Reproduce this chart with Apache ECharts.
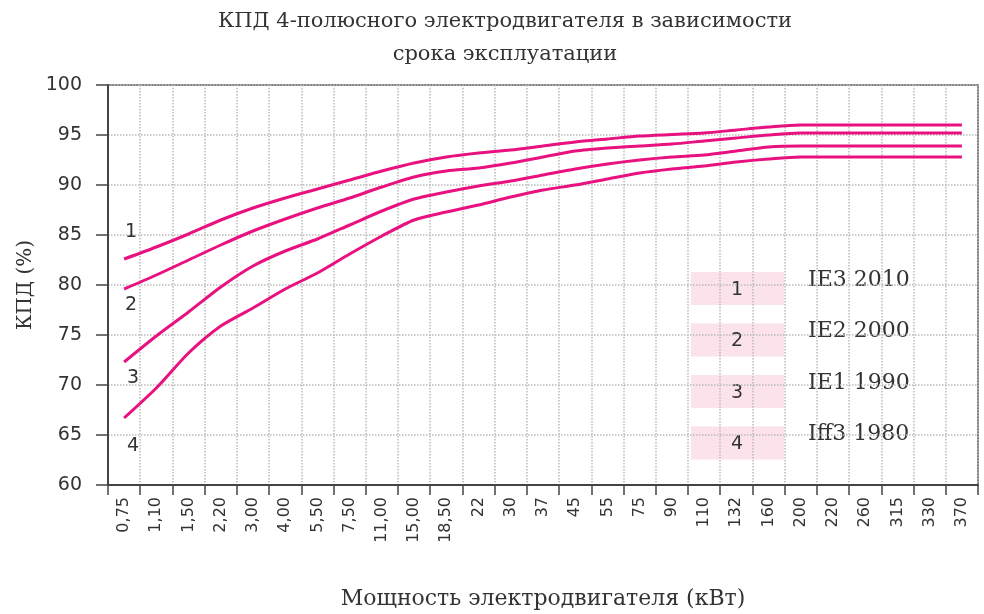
<!DOCTYPE html>
<html lang="ru">
<head>
  <meta charset="UTF-8">
  <title>КПД 4-полюсного электродвигателя</title>
  <script src="https://cdn.jsdelivr.net/npm/echarts@6.0.0/dist/echarts.min.js"></script>
  <style>
    html, body { margin: 0; padding: 0; background: #fff; }
    #chart { width: 984px; height: 614px; }
  </style>
</head>
<body>
  <div id="chart"></div>
  <script>
    // мощность, кВт
    const powers = ['0,75', '1,10', '1,50', '2,20', '3,00', '4,00', '5,50', '7,50', '11,00', '15,00',
      '18,50', '22', '30', '37', '45', '55', '75', '90', '110', '132', '160', '200', '220', '260',
      '315', '330', '370'];
    // КПД, %
    const ie3 = [82.6, 83.8, 85.1, 86.5, 87.7, 88.7, 89.6, 90.5, 91.4, 92.2, 92.8, 93.2, 93.5, 93.9,
      94.3, 94.6, 94.9, 95.05, 95.2, 95.5, 95.8, 96.0, 96.0, 96.0, 96.0, 96.0, 96.0];
    const ie2 = [79.6, 81.0, 82.5, 84.0, 85.4, 86.6, 87.7, 88.7, 89.8, 90.8, 91.4, 91.7, 92.2, 92.8,
      93.4, 93.7, 93.9, 94.1, 94.4, 94.7, 95.0, 95.2, 95.2, 95.2, 95.2, 95.2, 95.2];
    const ie1 = [72.3, 74.9, 77.3, 79.8, 81.9, 83.4, 84.6, 86.0, 87.4, 88.6, 89.3, 89.9, 90.4, 91.0,
      91.6, 92.1, 92.5, 92.8, 93.0, 93.4, 93.8, 93.9, 93.9, 93.9, 93.9, 93.9, 93.9];
    const eff3 = [66.7, 69.7, 73.2, 75.9, 77.7, 79.6, 81.2, 83.1, 84.9, 86.5, 87.3, 88.0, 88.8, 89.5,
      90.0, 90.6, 91.2, 91.6, 91.9, 92.3, 92.6, 92.8, 92.8, 92.8, 92.8, 92.8, 92.8];
    const curveNums = ['1', '2', '3', '4'];
    const classNames = ['IE3 2010', 'IE2 2000', 'IE1 1990', 'Iff3 1980'];
    const curves = [ie3, ie2, ie1, eff3];

    const pink = '#e8117f';
    const sans = 'DejaVu Sans';
    const serif = 'DejaVu Serif';
    // смещения подписей 1..4 у начала кривых
    const numOffsets = [[7, -27], [7, 16], [9, 16], [9, 28]];

    const series = curves.map((vals, i) => ({
      name: classNames[i],
      type: 'line',
      data: vals,
      symbol: 'none',
      smooth: 0.25,
      lineStyle: { color: pink, width: 3 },
      itemStyle: { color: pink },
      animation: false,
      markPoint: {
        symbol: 'circle',
        symbolSize: 1,
        itemStyle: { color: 'rgba(0,0,0,0)' },
        label: {
          show: true,
          formatter: curveNums[i],
          offset: numOffsets[i],
          color: '#333',
          fontFamily: sans,
          fontSize: 19
        },
        data: [{ coord: [0, vals[0]] }]
      }
    }));

    // легенда (розовые плашки + подписи)
    const graphic = [];
    classNames.forEach((name, i) => {
      const top = 272 + i * 51.5;
      graphic.push({
        type: 'rect',
        shape: { x: 691, y: top, width: 93, height: 33 },
        style: { fill: '#fbe2eb' }
      });
      graphic.push({
        type: 'text',
        x: 737, y: top + 18,
        style: {
          text: curveNums[i], fill: '#333', font: '19px "' + sans + '"',
          align: 'center', verticalAlign: 'middle'
        }
      });
      graphic.push({
        type: 'text',
        x: 808, y: top + 8,
        style: {
          text: name, fill: '#333', font: '22px "' + serif + '"',
          align: 'left', verticalAlign: 'middle'
        }
      });
    });

    const chart = echarts.init(document.getElementById('chart'));
    chart.setOption({
      animation: false,
      title: {
        text: 'КПД 4-полюсного электродвигателя в зависимости\nсрока эксплуатации',
        left: 500,
        textAlign: 'center',
        top: 0,
        textStyle: {
          fontFamily: serif, fontSize: 21, fontWeight: 'normal',
          color: '#333', lineHeight: 33
        }
      },
      grid: {
        left: 108, right: 6, top: 85, bottom: 129,
        outerBoundsMode: 'none',
        show: true, borderColor: '#555', borderWidth: 1.5, backgroundColor: 'transparent'
      },
      xAxis: {
        type: 'category',
        data: powers,
        boundaryGap: true,
        name: 'Мощность электродвигателя (кВт)',
        nameLocation: 'middle',
        nameGap: 103,
        nameMoveOverlap: false,
        nameTextStyle: { fontFamily: serif, fontSize: 22, color: '#333' },
        axisLine: { lineStyle: { color: '#444', width: 2 } },
        axisTick: { show: true, interval: 0, length: 10, lineStyle: { color: '#444', width: 1.5 } },
        axisLabel: {
          interval: 0, rotate: 90, margin: 12,
          fontFamily: sans, fontSize: 16, color: '#333'
        },
        splitLine: {
          show: true, interval: 0,
          lineStyle: { color: '#bbb', type: 'dotted', width: 1.5 }
        }
      },
      yAxis: {
        type: 'value',
        min: 60, max: 100, interval: 5,
        name: 'КПД (%)',
        nameLocation: 'middle',
        nameGap: 72,
        nameMoveOverlap: false,
        nameTextStyle: { fontFamily: serif, fontSize: 20, color: '#333' },
        axisLine: { show: true, lineStyle: { color: '#444', width: 2 } },
        axisTick: { show: true, length: 12, lineStyle: { color: '#444', width: 1.5 } },
        axisLabel: { margin: 26, fontFamily: sans, fontSize: 19, color: '#333' },
        splitLine: { lineStyle: { color: '#bbb', type: 'dotted', width: 1.5 } }
      },
      graphic: graphic,
      series: series
    });
  </script>
</body>
</html>
